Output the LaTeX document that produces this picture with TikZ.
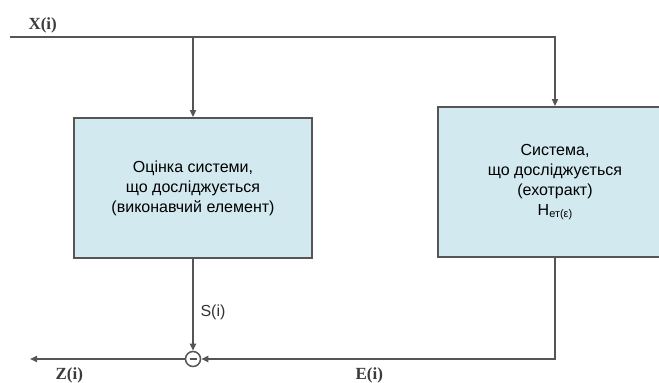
\documentclass[tikz,border=0pt]{standalone}
\usepackage{fontspec}
\setmainfont{Liberation Serif}
\setsansfont{Liberation Sans}
\usetikzlibrary{arrows.meta, positioning}
\definecolor{boxblue}{RGB}{210,233,239}
\definecolor{linegray}{RGB}{85,85,85}

\begin{document}
\begin{tikzpicture}[
  x=1pt, y=1pt,
  every node/.style={font=\sffamily\fontsize{16}{20}\selectfont},
  sysbox/.style={draw=linegray, line width=1.8pt, fill=boxblue, minimum width=238pt, minimum height=140pt, align=center, inner sep=0pt},
  wire/.style={draw=linegray, line width=1.8pt},
  arrow/.style={wire, -{Triangle[length=7pt, width=6pt]}},
  sig/.style={font=\rmfamily\bfseries\fontsize{17}{17}\selectfont, text=linegray!70!black},
  sumnode/.style={circle, draw=linegray, line width=1.5pt, fill=white, minimum size=15pt, inner sep=0pt},
]
\useasboundingbox (0,0) rectangle (659,383);

% Blocks: estimate and system under study
\node[sysbox] (est) at (193,195) {Оцінка системи,\\ що досліджується\\(виконавчий елемент)};
\node[sysbox, minimum width=234pt, minimum height=150pt] (sys) at (555,201) {Система,\\ що досліджується\\(ехотракт)\\Н\raisebox{-2pt}{\fontsize{11}{11}\selectfont ет(ε)}};

% Summing junction
\node[sumnode] (sum) at (193,24) {};
\draw[linegray, line width=1.5pt] ([xshift=-3.5pt]sum.center) -- ([xshift=3.5pt]sum.center);

% Input X(i) feeding both blocks
\coordinate (xin) at (10,346);
\coordinate (tapL) at (est.north |- xin);
\draw[arrow] (xin) -| (sys.north);
\draw[arrow] (tapL) -- (est.north);

% Outputs into the junction
\draw[arrow] (est.south) -- (sum.north);
\draw[arrow] (sys.south) |- (sum.east);

% Error output Z(i)
\coordinate (zout) at (30,24);
\draw[arrow] (sum.west) -- (zout);

% Signal labels
\node[sig, anchor=base west] (xlbl) at (25,353) {X(i)};
\node[sig, anchor=base west] (zlbl) at (52,3) {Z(i)};
\node[sig, anchor=base west] (elbl) at (352,3) {E(i)};
\node[anchor=base west, text=linegray!60!black] (slbl) at (197,66) {S(i)};

\end{tikzpicture}
\end{document}
